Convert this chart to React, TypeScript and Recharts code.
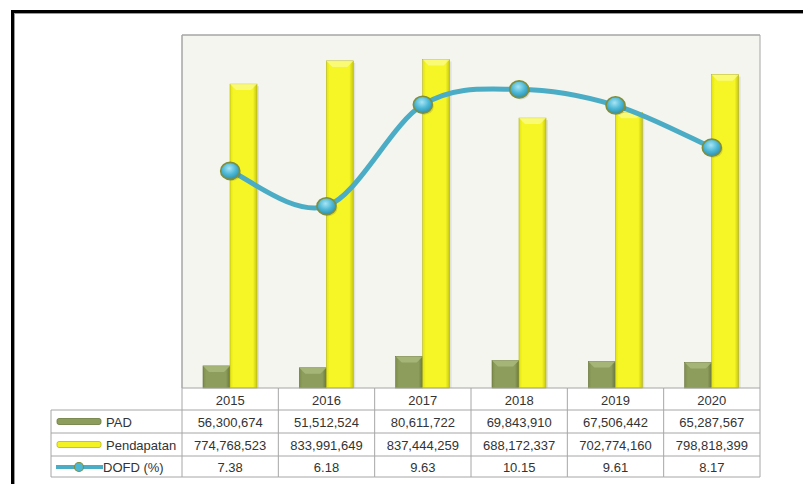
import React from 'react';
import { ComposedChart, Bar, Line, XAxis, YAxis, CartesianGrid, ReferenceLine } from 'recharts';

const years = ['2015', '2016', '2017', '2018', '2019', '2020'];
const padValues = [56300674, 51512524, 80611722, 69843910, 67506442, 65287567];
const pendapatanValues = [774768523, 833991649, 837444259, 688172337, 702774160, 798818399];
const dofdValues = [7.38, 6.18, 9.63, 10.15, 9.61, 8.17];
const valueTicks = [0, 150000000, 300000000, 450000000, 600000000, 750000000, 900000000];

const data = years.map((y, i) => ({ year: y, pad: padValues[i], pendapatan: pendapatanValues[i], dofd: dofdValues[i] }));

const W = 803;
const H = 484;
const PLOT_LEFT = 182;
const PLOT_RIGHT = 760;
const PLOT_TOP = 35;
const PLOT_BOTTOM = 388;
const COLW = (PLOT_RIGHT - PLOT_LEFT) / years.length;
const GRID = '#a6a6a6';
const TXT = '#333333';
const FONT = '"Liberation Sans", Arial, sans-serif';

const fmt = (n: number) => n.toLocaleString('en-US');

// Catmull-Rom style smoothing curve (d3 curve-factory interface)
const smoothCurve: any = (context: any) => {
  let pts: [number, number][] = [];
  return {
    areaStart() {},
    areaEnd() {},
    lineStart() {
      pts = [];
    },
    point(x: number, y: number) {
      pts.push([+x, +y]);
    },
    lineEnd() {
      if (!pts.length) return;
      context.moveTo(pts[0][0], pts[0][1]);
      for (let i = 0; i < pts.length - 1; i++) {
        const p0 = pts[i - 1] || pts[i];
        const p1 = pts[i];
        const p2 = pts[i + 1];
        const p3 = pts[i + 2] || p2;
        const c1x = p1[0] + (p2[0] - p0[0]) / 6;
        const c1y = p1[1] + (p2[1] - p0[1]) / 6;
        const c2x = p2[0] - (p3[0] - p1[0]) / 6;
        const c2y = p2[1] - (p3[1] - p1[1]) / 6;
        context.bezierCurveTo(c1x, c1y, c2x, c2y, p2[0], p2[1]);
      }
    },
  };
};

type Pal = { id: string; l: string; m: string; r: string; top: string; stroke: string };
const yellowPal: Pal = { id: 'yb', l: '#e2e214', m: '#f6f626', r: '#c6c610', top: '#fbfb90', stroke: '#b5b51a' };
const greenPal: Pal = { id: 'gb', l: '#7d8d4c', m: '#8d9d5c', r: '#6a783c', top: '#aebd82', stroke: '#66733a' };

const makeBar = (p: Pal) => (props: any) => {
  const { x, y, width, height, index } = props;
  if (!height || height <= 0) return null;
  const b = Math.min(6, width / 3, height / 2);
  const gid = `${p.id}-${index}`;
  return (
    <g>
      <defs>
        <linearGradient id={gid} x1="0" y1="0" x2="1" y2="0">
          <stop offset="0%" stopColor={p.l} />
          <stop offset="12%" stopColor={p.m} />
          <stop offset="85%" stopColor={p.m} />
          <stop offset="100%" stopColor={p.r} />
        </linearGradient>
      </defs>
      <rect x={x + 2} y={y + 2} width={width} height={height - 2} fill="#000" opacity={0.08} />
      <rect x={x} y={y} width={width} height={height} fill={`url(#${gid})`} stroke={p.stroke} strokeWidth={0.6} />
      <polygon
        points={`${x},${y} ${x + width},${y} ${x + width - b},${y + b} ${x + b},${y + b}`}
        fill={p.top}
        opacity={0.75}
      />
    </g>
  );
};

const YellowBar = makeBar(yellowPal);
const GreenBar = makeBar(greenPal);

const Dot = (props: any) => {
  const { cx, cy, index } = props;
  if (cx == null || cy == null) return null;
  const gid = `dotg-${index}`;
  return (
    <g>
      <defs>
        <radialGradient id={gid} cx="45%" cy="35%" r="65%">
          <stop offset="0%" stopColor="#a8e4f4" />
          <stop offset="55%" stopColor="#4cb8d6" />
          <stop offset="100%" stopColor="#2f8fae" />
        </radialGradient>
      </defs>
      <ellipse cx={cx + 1.5} cy={cy + 1.5} rx={9.5} ry={8.5} fill="#000" opacity={0.12} />
      <ellipse cx={cx} cy={cy} rx={9.5} ry={8.5} fill={`url(#${gid})`} stroke="#7e8e3c" strokeWidth={1.6} />
    </g>
  );
};

const rowsY = [PLOT_BOTTOM, 410, 433, 456, 477];
const baselines = [405, 426.5, 449.5, 471.5];

const LegendColumn = () => {
  const left = 51;
  const right = PLOT_LEFT;
  return (
    <g>
      <line x1={left} y1={rowsY[1]} x2={right} y2={rowsY[1]} stroke={GRID} />
      <line x1={left} y1={rowsY[2]} x2={right} y2={rowsY[2]} stroke={GRID} />
      <line x1={left} y1={rowsY[3]} x2={right} y2={rowsY[3]} stroke={GRID} />
      <line x1={left} y1={rowsY[4]} x2={right} y2={rowsY[4]} stroke={GRID} />
      <line x1={left} y1={rowsY[1]} x2={left} y2={rowsY[4]} stroke={GRID} />
      <line x1={right} y1={rowsY[0]} x2={right} y2={rowsY[4]} stroke={GRID} />
      <rect x={57} y={418.5} width={44} height={6} rx={2} fill="#8d9d5c" stroke="#6a783c" strokeWidth={0.8} />
      <rect x={57} y={441.5} width={44} height={6} rx={2} fill="#f2f226" stroke="#b5b51a" strokeWidth={0.8} />
      <line x1={56} y1={467} x2={103} y2={467} stroke="#4bacc6" strokeWidth={4} />
      <circle cx={79} cy={467} r={4.5} fill="#4cb8d6" stroke="#7e8e3c" strokeWidth={1.2} />
      <text x={106} y={baselines[1]} fontSize={13} fill={TXT} fontFamily={FONT}>PAD</text>
      <text x={106} y={baselines[2]} fontSize={13} fill={TXT} fontFamily={FONT}>Pendapatan</text>
      <text x={103} y={baselines[3]} fontSize={13} fill={TXT} fontFamily={FONT}>DOFD (%)</text>
    </g>
  );
};

const TableTick = (props: any) => {
  const { x, payload } = props;
  const i = years.indexOf(String(payload.value));
  if (i < 0) return null;
  const l = x - COLW / 2;
  const r = x + COLW / 2;
  const cells = [years[i], fmt(padValues[i]), fmt(pendapatanValues[i]), dofdValues[i].toFixed(2)];
  return (
    <g>
      {i === 0 && <LegendColumn />}
      {rowsY.map((yy, k) => (
        <line key={k} x1={l} y1={yy} x2={r} y2={yy} stroke={GRID} />
      ))}
      <line x1={r} y1={rowsY[0]} x2={r} y2={rowsY[4]} stroke={GRID} />
      {cells.map((c, k) => (
        <text key={k} x={x} y={baselines[k]} textAnchor="middle" fontSize={13} fill={TXT} fontFamily={FONT}>
          {c}
        </text>
      ))}
    </g>
  );
};

export default function App() {
  return (
    <div style={{ position: 'absolute', left: 0, top: 0, width: W, height: H, overflow: 'hidden', background: '#fff' }}>
      <div
        style={{
          position: 'absolute',
          left: 11,
          top: 10,
          width: 1000,
          height: 700,
          borderLeft: '3px solid #000',
          borderTop: '3px solid #000',
          boxShadow: 'inset 1px 1px 0 #999',
        }}
      />
      <div style={{ position: 'absolute', left: 0, top: 0 }}>
        <ComposedChart
          width={W}
          height={H}
          data={data}
          margin={{ top: PLOT_TOP, left: PLOT_LEFT, right: 0, bottom: 0 }}
          barGap={0}
          barCategoryGap={0}
        >
          <CartesianGrid horizontal={false} vertical={false} fill="#f3f5ee" />
          <XAxis
            dataKey="year"
            height={H - PLOT_BOTTOM}
            interval={0}
            tickLine={false}
            axisLine={false}
            tick={<TableTick />}
          />
          <YAxis
            yAxisId="dofd"
            orientation="left"
            mirror
            domain={[0, 12]}
            tick={false}
            tickLine={false}
            axisLine={{ stroke: GRID, strokeWidth: 1.5 }}
          />
          <YAxis
            yAxisId="val"
            orientation="right"
            width={W - PLOT_RIGHT}
            domain={[0, 900000000]}
            ticks={valueTicks}
            tick={false}
            tickSize={6}
            tickLine={{ stroke: GRID }}
            axisLine={{ stroke: GRID }}
          />
          <ReferenceLine yAxisId="dofd" y={12} stroke={GRID} strokeWidth={1.5} />
          <Bar yAxisId="val" dataKey="pad" barSize={27} shape={GreenBar} isAnimationActive={false} />
          <Bar yAxisId="val" dataKey="pendapatan" barSize={27} shape={YellowBar} isAnimationActive={false} />
          <Line
            yAxisId="dofd"
            dataKey="dofd"
            type={smoothCurve}
            stroke="#4bacc6"
            strokeWidth={5}
            dot={<Dot />}
            activeDot={false}
            isAnimationActive={false}
          />
        </ComposedChart>
      </div>
    </div>
  );
}
